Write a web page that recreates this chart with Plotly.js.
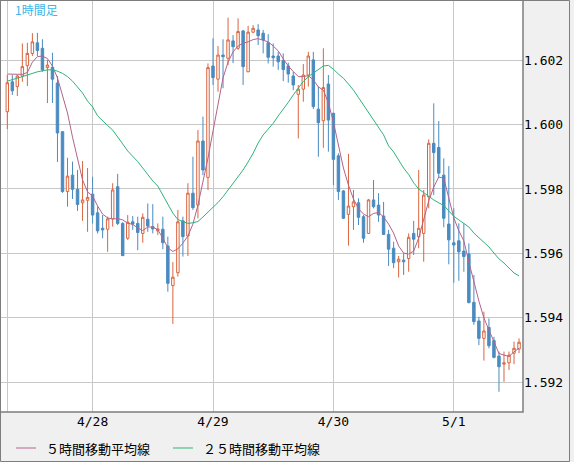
<!DOCTYPE html>
<html>
<head>
<meta charset="utf-8">
<script src="https://cdn.plot.ly/plotly-3.0.1.min.js"></script>
<style>
html,body{margin:0;padding:0;background:#f0f0f0;}
#chart{width:574px;height:462px;}
</style>
</head>
<body>
<div id="chart"></div>
<script>
// bar index (hourly bars, 4/27 07:00 .. 5/1 13:00)
const barCount = 103;
const tickPositions = [0, 17, 41, 65, 89];
const tickLabels = ['', '4/28', '4/29', '4/30', '5/1'];
const priceTicks = [1.592, 1.594, 1.596, 1.598, 1.600, 1.602];

const openP = [
1.60040,1.60133,1.60118,1.60151,1.60183,1.60221,1.60254,1.60237,1.60177,1.60178,
1.60129,1.59978,1.59792,1.59843,1.59799,1.59757,1.59765,1.59784,1.59726,1.59678,
1.59675,1.59707,1.59807,1.59693,1.59647,1.59698,1.59693,1.59662,1.59706,1.59683,
1.59670,1.59675,1.59623,1.59500,1.59540,1.59701,1.59654,1.59787,1.59750,1.59949,
1.59836,1.60182,1.60141,1.60216,1.60206,1.60260,1.60237,1.60291,1.60164,1.60287,
1.60294,1.60284,1.60254,1.60213,1.60213,1.60199,1.60182,1.60151,1.60094,1.60110,
1.60154,1.60201,1.60048,1.60012,1.60126,1.60035,1.59903,1.59794,1.59721,1.59745,
1.59757,1.59714,1.59662,1.59766,1.59750,1.59716,1.59659,1.59616,1.59574,1.59579,
1.59584,1.59662,1.59652,1.59662,1.59776,1.59942,1.59929,1.59843,1.59691,1.59633,
1.59639,1.59607,1.59598,1.59448,1.59390,1.59336,1.59370,1.59329,1.59281,1.59256,
1.59260,1.59290,1.59303];

const highP = [
1.60154,1.60154,1.60154,1.60252,1.60254,1.60284,1.60285,1.60265,1.60201,1.60223,
1.60151,1.59980,1.59897,1.59885,1.59859,1.59887,1.59865,1.59838,1.59745,1.59719,
1.59714,1.59818,1.59847,1.59697,1.59719,1.59716,1.59714,1.59724,1.59755,1.59753,
1.59693,1.59714,1.59652,1.59573,1.59735,1.59714,1.59818,1.59900,1.59983,1.60025,
1.60190,1.60268,1.60244,1.60265,1.60332,1.60278,1.60330,1.60294,1.60307,1.60309,
1.60312,1.60294,1.60281,1.60252,1.60226,1.60221,1.60192,1.60164,1.60123,1.60188,
1.60226,1.60226,1.60118,1.60237,1.60154,1.60037,1.59911,1.59797,1.59909,1.59797,
1.59771,1.59719,1.59769,1.59828,1.59787,1.59760,1.59673,1.59636,1.59592,1.59600,
1.59662,1.59701,1.59859,1.59797,1.59954,1.60066,1.60011,1.59895,1.59871,1.59740,
1.59693,1.59693,1.59631,1.59533,1.59403,1.59419,1.59398,1.59341,1.59295,1.59295,
1.59295,1.59326,1.59336];

const lowP = [
1.59986,1.60092,1.60089,1.60133,1.60120,1.60213,1.60213,1.60164,1.60067,1.60067,
1.59884,1.59788,1.59745,1.59769,1.59732,1.59701,1.59667,1.59693,1.59662,1.59647,
1.59605,1.59683,1.59688,1.59592,1.59642,1.59673,1.59610,1.59633,1.59667,1.59662,
1.59657,1.59613,1.59481,1.59381,1.59528,1.59590,1.59592,1.59735,1.59709,1.59843,
1.59797,1.60123,1.60102,1.60113,1.60185,1.60191,1.60232,1.60123,1.60163,1.60284,
1.60247,1.60221,1.60190,1.60180,1.60170,1.60135,1.60130,1.60107,1.59957,1.60071,
1.60118,1.60048,1.59900,1.59928,1.59916,1.59812,1.59766,1.59707,1.59624,1.59673,
1.59688,1.59633,1.59660,1.59740,1.59698,1.59657,1.59561,1.59554,1.59525,1.59533,
1.59543,1.59595,1.59616,1.59574,1.59740,1.59781,1.59836,1.59681,1.59566,1.59509,
1.59515,1.59543,1.59445,1.59378,1.59315,1.59267,1.59305,1.59274,1.59170,1.59201,
1.59238,1.59256,1.59290];

const closeP = [
1.60130,1.60105,1.60151,1.60180,1.60221,1.60257,1.60230,1.60170,1.60185,1.60141,
1.59974,1.59792,1.59840,1.59799,1.59752,1.59766,1.59774,1.59719,1.59670,1.59673,
1.59707,1.59797,1.59693,1.59593,1.59697,1.59691,1.59665,1.59712,1.59685,1.59676,
1.59676,1.59633,1.59507,1.59526,1.59698,1.59652,1.59787,1.59742,1.59949,1.59859,
1.60177,1.60146,1.60216,1.60211,1.60263,1.60242,1.60289,1.60180,1.60287,1.60299,
1.60276,1.60263,1.60209,1.60208,1.60195,1.60171,1.60157,1.60123,1.60110,1.60154,
1.60213,1.60056,1.60006,1.60115,1.60014,1.59892,1.59792,1.59709,1.59747,1.59760,
1.59712,1.59647,1.59766,1.59745,1.59719,1.59659,1.59613,1.59571,1.59582,1.59574,
1.59650,1.59644,1.59678,1.59781,1.59942,1.59913,1.59849,1.59709,1.59642,1.59626,
1.59605,1.59590,1.59447,1.59388,1.59336,1.59359,1.59313,1.59277,1.59248,1.59260,
1.59284,1.59305,1.59324];

// 5-hour moving average
const ma5 = [
1.60157,1.60156,1.60156,1.60156,1.60162,1.60194,1.60211,1.60213,1.60205,1.60182,
1.60145,1.60092,1.60036,1.59961,1.59890,1.59828,1.59791,1.59778,1.59747,1.59722,
1.59710,1.59707,1.59708,1.59704,1.59694,1.59690,1.59679,1.59671,1.59682,1.59682,
1.59673,1.59648,1.59617,1.59606,1.59614,1.59632,1.59654,1.59691,1.59750,1.59822,
1.59896,1.59980,1.60064,1.60145,1.60194,1.60226,1.60244,1.60253,1.60257,1.60264,
1.60267,1.60263,1.60257,1.60244,1.60229,1.60204,1.60182,1.60165,1.60149,1.60149,
1.60152,1.60139,1.60117,1.60107,1.60067,1.60008,1.59937,1.59865,1.59812,1.59769,
1.59739,1.59722,1.59714,1.59724,1.59727,1.59713,1.59691,1.59663,1.59623,1.59601,
1.59598,1.59607,1.59648,1.59710,1.59763,1.59806,1.59837,1.59834,1.59775,1.59710,
1.59670,1.59639,1.59573,1.59511,1.59452,1.59399,1.59362,1.59328,1.59289,1.59284,
1.59280,1.59294,1.59306];

// 25-hour moving average
const ma25 = [
1.60135,1.60139,1.60143,1.60149,1.60154,1.60160,1.60164,1.60167,1.60170,1.60170,
1.60166,1.60159,1.60149,1.60135,1.60118,1.60098,1.60073,1.60055,1.60027,1.60011,
1.59997,1.59983,1.59963,1.59940,1.59918,1.59903,1.59885,1.59865,1.59843,1.59825,
1.59809,1.59781,1.59753,1.59725,1.59705,1.59699,1.59693,1.59695,1.59699,1.59713,
1.59727,1.59741,1.59758,1.59776,1.59797,1.59817,1.59837,1.59859,1.59884,1.59911,
1.59943,1.59968,1.59986,1.60004,1.60027,1.60047,1.60069,1.60092,1.60114,1.60134,
1.60149,1.60160,1.60173,1.60182,1.60184,1.60172,1.60157,1.60144,1.60126,1.60107,
1.60084,1.60061,1.60038,1.60014,1.59993,1.59968,1.59934,1.59915,1.59890,1.59865,
1.59845,1.59819,1.59800,1.59788,1.59777,1.59766,1.59757,1.59749,1.59732,1.59715,
1.59704,1.59694,1.59682,1.59663,1.59648,1.59635,1.59620,1.59601,1.59583,1.59570,
1.59553,1.59539,1.59530];

const ma5Name = '５時間移動平均線';
const ma25Name = '２５時間移動平均線';
const chartLabel = '1時間足';

const xIdx = [];
for (let i = 0; i < barCount; i++) xIdx.push(i);

const upColor = '#d9653e';
const downColor = '#4a8bc1';
const ma5Color = '#b4628a';
const ma25Color = '#2fb37a';

const traces = [
  {
    type: 'candlestick',
    x: xIdx, open: openP, high: highP, low: lowP, close: closeP,
    increasing: {line: {color: upColor, width: 1}, fillcolor: '#ffffff'},
    decreasing: {line: {color: downColor, width: 1}, fillcolor: downColor},
    whiskerwidth: 0,
    showlegend: false, hoverinfo: 'skip'
  },
  {
    type: 'scatter', mode: 'lines', x: xIdx, y: ma5, name: ma5Name,
    line: {color: ma5Color, width: 1}, showlegend: false, hoverinfo: 'skip'
  },
  {
    type: 'scatter', mode: 'lines', x: xIdx, y: ma25, name: ma25Name,
    line: {color: ma25Color, width: 1}, showlegend: false, hoverinfo: 'skip'
  }
];

const W = 523, H = 412; // plot area px
const px = v => v / W;
const py = v => (H - v) / H;

const layout = {
  width: 574, height: 462,
  margin: {l: 0, r: 51, t: 0, b: 50, pad: 0},
  paper_bgcolor: '#f0f0f0',
  plot_bgcolor: '#ffffff',
  showlegend: false,
  font: {family: 'DejaVu Sans Mono, monospace', size: 13, color: '#000'},
  xaxis: {
    range: [-1.455, 102.79],
    tickmode: 'array', tickvals: tickPositions, ticktext: tickLabels,
    showgrid: true, gridcolor: '#c8c8c8', gridwidth: 1,
    zeroline: false, showline: false, ticks: '',
    rangeslider: {visible: false},
    tickfont: {family: 'DejaVu Sans Mono, monospace', size: 13, color: '#000'},
    fixedrange: true
  },
  yaxis: {
    range: [1.591073, 1.60387],
    side: 'right',
    tickmode: 'array', tickvals: priceTicks,
    ticktext: priceTicks.map(v => v.toFixed(3)),
    showgrid: true, gridcolor: '#c8c8c8', gridwidth: 1,
    zeroline: false, showline: false, ticks: '',
    tickfont: {family: 'DejaVu Sans Mono, monospace', size: 13, color: '#000'},
    fixedrange: true
  },
  shapes: [
    {type: 'rect', xref: 'paper', yref: 'paper', x0: 0, x1: 1, y0: 0, y1: 1,
     line: {color: '#7d7d7d', width: 1.5}},
    {type: 'line', xref: 'paper', yref: 'paper', x0: px(16), x1: px(36), y0: py(448), y1: py(448),
     line: {color: ma5Color, width: 1}},
    {type: 'line', xref: 'paper', yref: 'paper', x0: px(173), x1: px(193), y0: py(448), y1: py(448),
     line: {color: ma25Color, width: 1}},
    {type: 'rect', xref: 'paper', yref: 'paper', x0: px(0.5), x1: px(569.5), y0: py(461.5), y1: py(0.5),
     line: {color: '#7d7d7d', width: 1}}
  ],
  annotations: [
    {xref: 'paper', yref: 'paper', x: px(13), y: py(10), xanchor: 'left', yanchor: 'middle',
     text: chartLabel, showarrow: false,
     font: {family: 'Noto Sans CJK JP, sans-serif', size: 12, color: '#3cb6e8'}},
    {xref: 'paper', yref: 'paper', x: px(44), y: py(448), xanchor: 'left', yanchor: 'middle',
     text: ma5Name, showarrow: false,
     font: {family: 'Noto Sans CJK JP, sans-serif', size: 13, color: '#000'}},
    {xref: 'paper', yref: 'paper', x: px(201), y: py(448), xanchor: 'left', yanchor: 'middle',
     text: ma25Name, showarrow: false,
     font: {family: 'Noto Sans CJK JP, sans-serif', size: 13, color: '#000'}}
  ]
};

Plotly.newPlot('chart', traces, layout, {displayModeBar: false, staticPlot: true});
</script>
</body>
</html>
